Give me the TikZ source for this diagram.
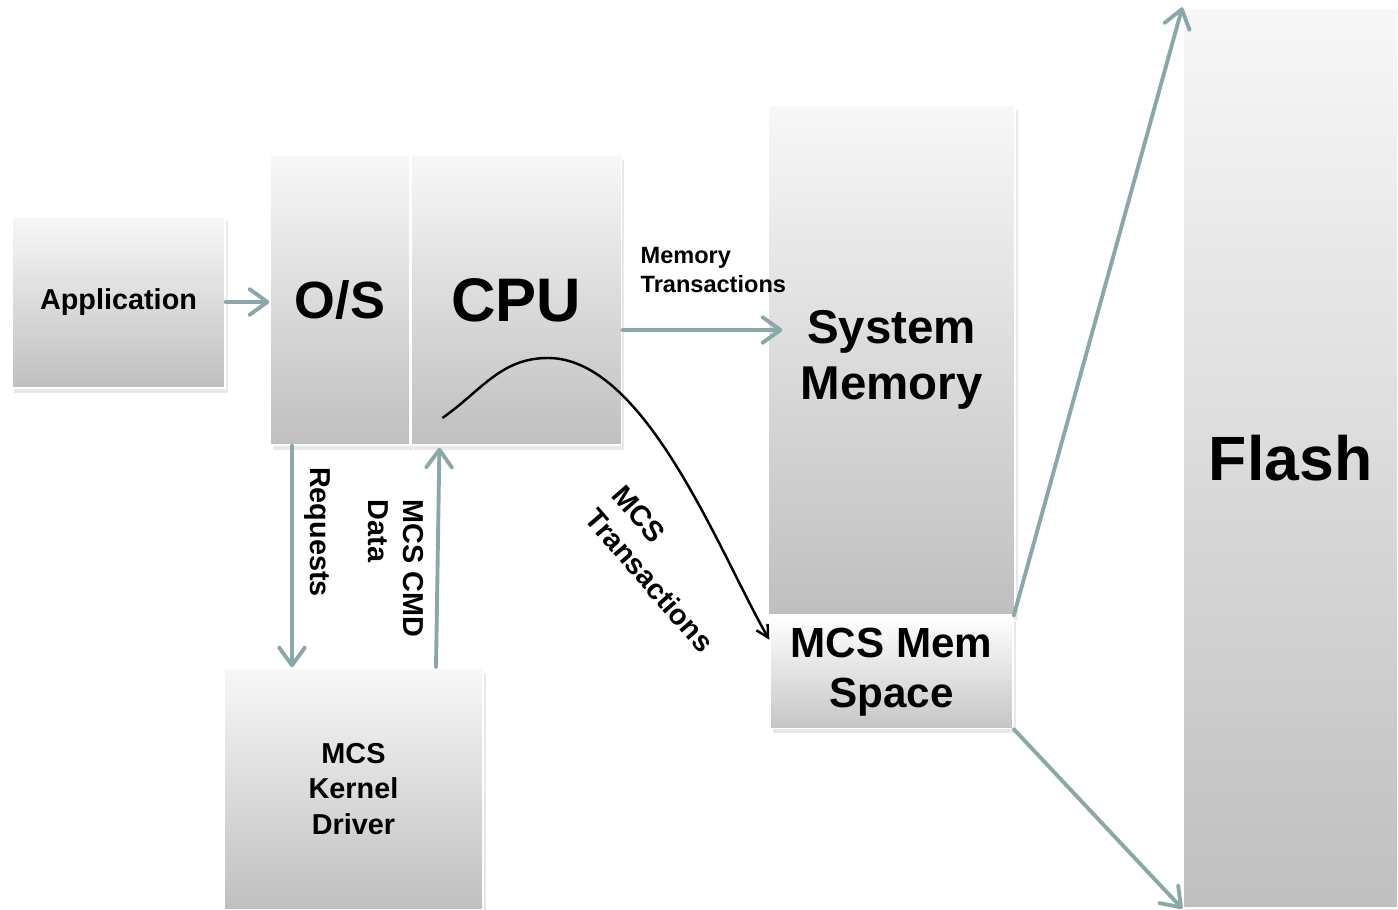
\documentclass[tikz,border=0pt]{standalone}
\usepackage{fontspec}
\setmainfont{Liberation Sans}
\usetikzlibrary{arrows.meta,shadows,positioning}

\definecolor{flowcol}{RGB}{138,167,170}
\newcommand{\bfsz}[2]{\fontsize{#1}{#2}\selectfont\bfseries}

\begin{document}
\begin{tikzpicture}[
	box/.style={draw=white, line width=0.4pt, top color=gray!6, bottom color=gray!50, inner sep=0pt, align=center,
		drop shadow={opacity=0.18, shadow xshift=0.25mm, shadow yshift=-0.5mm}},
	flow/.style={draw=flowcol, line width=1.1pt, line cap=round, -{Straight Barb[length=1.8mm,width=2.6mm,round]}},
	lbl/.style={inner sep=0pt, align=left, font=\bfsz{8.2pt}{10pt}}
	]
			\useasboundingbox (0,0) rectangle (13.98,9.10);
			\fill[white] (0,0) rectangle (13.98,9.10);
			%boxes
			\node[box, minimum width=2.13cm, minimum height=1.72cm, font=\bfsz{8.2pt}{10pt}] (app) at (1.185,6.08) {Application};
			\node[box, minimum width=1.40cm, minimum height=2.90cm, font=\bfsz{14.9pt}{18pt}] (os) at (3.40,6.10) {O/S};
			\node[box, minimum width=2.10cm, minimum height=2.90cm, font=\bfsz{17.5pt}{21pt}, right=0pt of os] (cpu) {CPU};
			\node[box, minimum width=2.47cm, minimum height=5.10cm, font=\bfsz{13.5pt}{15.9pt}] (sysmem) at (8.915,5.50) {System\\Memory};
			\node[box, top color=white, bottom color=gray!45, minimum width=2.43cm, minimum height=1.12cm, font=\bfsz{12pt}{14.2pt}, below=0pt of sysmem] (mcsmem) {MCS Mem\\Space};
			\node[box, minimum width=2.59cm, minimum height=2.42cm, font=\bfsz{8.2pt}{10pt}] (driver) at (3.535,1.21) {MCS\\Kernel\\Driver};
			\node[box, minimum width=2.15cm, minimum height=9.00cm, font=\bfsz{17.8pt}{21pt}] (flash) at (12.905,4.52) {Flash};
			%flows
			\draw[flow] (app.east) -- (app.east -| os.west);
			\draw[flow] ([yshift=-3mm]cpu.east) -- ([xshift=1.5mm,yshift=3mm]sysmem.west);
			\draw[flow] ([xshift=-4.8mm]os.south) -- ([xshift=-4.8mm]os.south |- driver.north);
			\draw[flow] ([xshift=8.25mm]driver.north) -- ([xshift=-7.7mm,yshift=-0.2mm]cpu.south);
			\draw[flow] (mcsmem.north east) -- (flash.north west);
			\draw[flow] (mcsmem.south east) -- (flash.south west);
			% mcs transactions curve
			\coordinate (crest) at (5.48,5.52);
			\draw[line width=0.7pt, -{Straight Barb[length=1.2mm,width=1.3mm]}] ([shift={(-0.74,-1.18)}]cpu.center) to[out=35,in=180] (crest) to[out=0,in=120,looseness=0.7] ([yshift=-2.4mm]mcsmem.north west);
			%labels
			\node[lbl, font=\bfsz{6.7pt}{8pt}, anchor=west] (memtr) at (6.40,6.40) {Memory\\Transactions};
			\node[lbl, rotate=-90] (req) at (3.17,3.78) {Requests};
			\node[lbl, rotate=-90] (cmd) at (3.955,3.415) {MCS CMD\\Data};
			\node[lbl, rotate=-49] (mcstr) at (6.63,3.41) {MCS\\Transactions};
\end{tikzpicture}
\end{document}
